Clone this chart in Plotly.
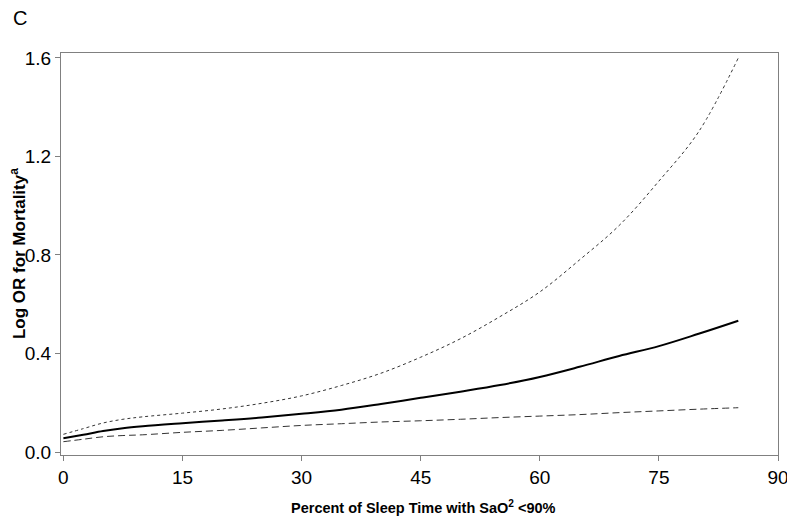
import plotly.graph_objects as go

x_pct = [0, 2.5, 5, 7.5, 10, 15, 20, 25, 30, 35, 40, 45, 50, 55, 60, 65, 70, 75, 80, 85]
log_or = [0.056, 0.070, 0.085, 0.097, 0.105, 0.117, 0.128, 0.140, 0.155, 0.172, 0.195, 0.220,
          0.245, 0.272, 0.305, 0.346, 0.390, 0.430, 0.480, 0.533]
upper_ci = [0.072, 0.095, 0.118, 0.133, 0.143, 0.158, 0.175, 0.198, 0.228, 0.270, 0.320, 0.385,
            0.460, 0.550, 0.650, 0.780, 0.920, 1.100, 1.300, 1.600]
lower_ci = [0.042, 0.052, 0.062, 0.067, 0.070, 0.080, 0.088, 0.098, 0.108, 0.115, 0.122, 0.127,
            0.133, 0.140, 0.146, 0.152, 0.160, 0.167, 0.174, 0.180]

x_ticks = [0, 15, 30, 45, 60, 75, 90]
y_ticks = [0.0, 0.4, 0.8, 1.2, 1.6]
y_tick_labels = ["0.0", "0.4", "0.8", "1.2", "1.6"]

fig = go.Figure()
fig.add_trace(go.Scatter(x=x_pct, y=upper_ci, mode="lines", line=dict(color="#333333", width=1, dash="3px,3px", shape="spline"), showlegend=False))
fig.add_trace(go.Scatter(x=x_pct, y=lower_ci, mode="lines", line=dict(color="#333333", width=1, dash="7px,4px", shape="spline"), showlegend=False))
fig.add_trace(go.Scatter(x=x_pct, y=log_or, mode="lines", line=dict(color="black", width=2, shape="spline"), showlegend=False))

font = "Liberation Sans, Arial, sans-serif"
fig.update_layout(
    width=787, height=514,
    margin=dict(l=53, r=17, t=45, b=67, autoexpand=False),
    plot_bgcolor="white", paper_bgcolor="white",
    font=dict(family=font, color="black"),
    xaxis=dict(range=[-0.3, 90], tickvals=x_ticks, ticks="outside", ticklen=5, tickcolor="#808080",
               showline=True, linecolor="#808080", linewidth=1, mirror=True, showgrid=False,
               zeroline=False, automargin=False, tickfont=dict(size=19, family=font)),
    yaxis=dict(range=[-0.012, 1.62], tickvals=y_ticks, ticktext=y_tick_labels, ticks="outside", ticklen=5,
               tickcolor="#808080", showline=True, linecolor="#808080", linewidth=1, mirror=True,
               showgrid=False, zeroline=False, automargin=False, tickfont=dict(size=19, family=font)),
    annotations=[
        dict(text="C", xref="paper", yref="paper", x=-0.0565, y=1.087, xanchor="center", yanchor="middle",
             showarrow=False, font=dict(size=20, family=font)),
        dict(text="<b>Percent of Sleep Time with SaO<sup>2</sup> <90%</b>", xref="paper", yref="paper",
             x=0.505, y=-0.129, xanchor="center", yanchor="middle", showarrow=False,
             font=dict(size=14.5, family=font)),
        dict(text="<b>Log OR for Mortality<sup>a</sup></b>", xref="paper", yref="paper",
             x=-0.0598, y=0.5, xanchor="center", yanchor="middle", textangle=-90, showarrow=False,
             font=dict(size=17, family=font)),
    ],
)

fig.write_html("out.html")
